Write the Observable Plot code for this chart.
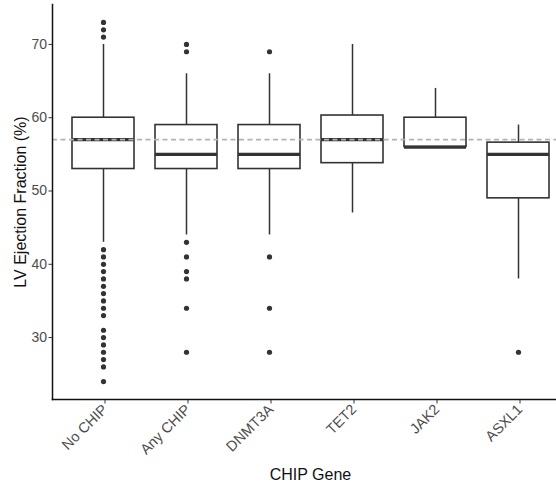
<!DOCTYPE html>
<html>
<head>
<meta charset="utf-8">
<script src="https://cdn.jsdelivr.net/npm/d3@7"></script>
<script src="https://cdn.jsdelivr.net/npm/@observablehq/plot@0.6"></script>
<style>
  html, body { margin: 0; padding: 0; background: #fff; }
  #chart svg { display: block; }
</style>
</head>
<body>
<div id="chart"></div>
<script>
// Categories
const genes = ["No CHIP", "Any CHIP", "DNMT3A", "TET2", "JAK2", "ASXL1"];
// Box statistics (LV ejection fraction, %)
const whiskerLow = [43, 44, 44, 47, 56, 38];
const q1 = [53, 53, 53, 53.8, 56, 49];
const median = [57, 55, 55, 57, 56, 55];
const q3 = [60, 59, 59, 60.3, 60, 56.6];
const whiskerHigh = [70, 66, 66, 70, 64, 59];
// Outliers per gene
const outNoCHIP = [73, 72, 71, 42, 41, 40, 39, 38, 37, 36, 35, 34, 33, 31, 30, 29, 28, 27, 26, 24];
const outAnyCHIP = [70, 69, 43, 41, 39, 38, 34, 28];
const outDNMT3A = [69, 41, 34, 28];
const outTET2 = [];
const outJAK2 = [];
const outASXL1 = [28];
// Reference line
const refLine = [57];
const yTicks = [30, 40, 50, 60, 70];

const boxes = genes.map((g, i) => ({
  gene: g, lo: whiskerLow[i], q1: q1[i], med: median[i], q3: q3[i], hi: whiskerHigh[i]
}));
const outlierLists = [outNoCHIP, outAnyCHIP, outDNMT3A, outTET2, outJAK2, outASXL1];
const outliers = outlierLists.flatMap((arr, i) => arr.map(v => ({gene: genes[i], v})));

const dark = "#333333";

const chart = Plot.plot({
  width: 556,
  height: 483,
  marginLeft: 52,
  marginRight: 0,
  marginTop: 4,
  marginBottom: 84,
  style: {fontFamily: "'Liberation Sans', Arial, sans-serif", background: "#fff"},
  x: {domain: genes, range: [52.3, 568.2], paddingInner: 0.25, paddingOuter: 0.225, align: 0.5},
  y: {domain: [21.55, 75.45]},
  marks: [
    // whiskers
    Plot.ruleX(boxes, {x: "gene", y1: "q3", y2: "hi", stroke: dark, strokeWidth: 1.5}),
    Plot.ruleX(boxes, {x: "gene", y1: "lo", y2: "q1", stroke: dark, strokeWidth: 1.5}),
    // boxes
    Plot.barY(boxes, {x: "gene", y1: "q1", y2: "q3", fill: "#fff", stroke: dark, strokeWidth: 1.6}),
    // medians
    Plot.tickY(boxes, {x: "gene", y: "med", stroke: dark, strokeWidth: 3.2}),
    // outliers
    Plot.dot(outliers, {x: "gene", y: "v", r: 2.6, fill: dark, stroke: "none"}),
    // dashed reference line
    Plot.ruleY(refLine, {stroke: "#b3b3b3", strokeWidth: 1.8, strokeDasharray: "5,3.5"}),
    // axis lines
    Plot.frame({anchor: "left", stroke: "#111", strokeWidth: 1.5}),
    Plot.frame({anchor: "bottom", stroke: "#111", strokeWidth: 1.5}),
    // axes
    Plot.axisY({ticks: yTicks, tickSize: 3.5, tickPadding: 2, stroke: dark, fill: "#4d4d4d", fontSize: 14, label: null}),
    Plot.axisX({tickRotate: -45, tickSize: 3.5, tickPadding: 3, stroke: dark, fill: "#4d4d4d", fontSize: 14.5, label: null, dx: 1.5, dy: 1}),
    // axis titles
    Plot.text(["LV Ejection Fraction (%)"], {frameAnchor: "left", dx: -32, rotate: -90, fontSize: 16, fill: "#111", textAnchor: "middle", lineAnchor: "middle"}),
    Plot.text(["CHIP Gene"], {frameAnchor: "bottom", dx: 6, dy: 75, fontSize: 16, fill: "#111", textAnchor: "middle", lineAnchor: "middle"})
  ]
});
document.getElementById("chart").appendChild(chart);
</script>
</body>
</html>
